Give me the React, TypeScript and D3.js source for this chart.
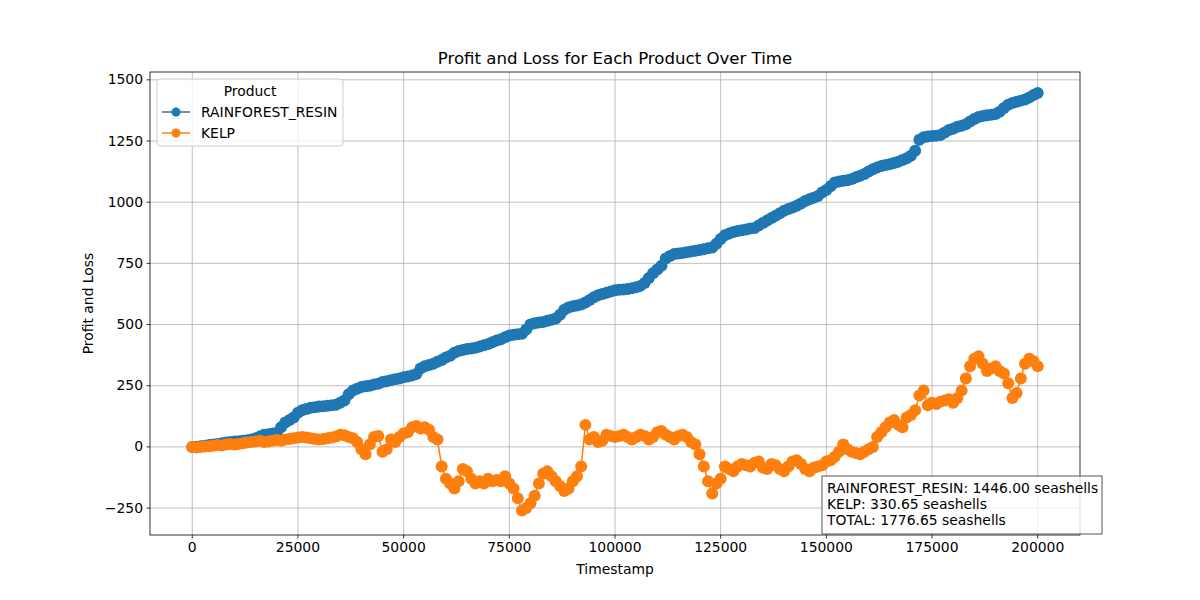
import React from "react";
import * as d3 from "d3";

const step = 1000;
const resinValues = [
0,1,3,5,8,10,12,15,18,20,22,
23,25,27,30,35,42,50,52,55,58,
80,100,110,120,140,150,155,160,162,165,
166,168,170,172,180,190,215,230,238,245,
248,250,255,258,265,268,272,276,280,285,
288,292,298,320,330,335,340,348,355,365,
372,385,392,396,400,402,405,410,415,420,
428,435,440,448,455,458,460,462,480,500,
505,508,510,515,520,525,540,560,570,575,
578,582,590,600,612,620,625,630,635,640,
642,643,645,648,652,658,670,690,710,725,
740,770,780,788,790,792,795,798,802,805,
808,812,815,830,850,865,872,878,882,885,
888,892,895,905,915,925,935,945,955,965,
972,978,985,995,1005,1012,1018,1025,1040,1050,
1065,1080,1085,1088,1090,1095,1102,1108,1115,1125,
1135,1142,1148,1152,1155,1160,1165,1172,1180,1190,
1210,1255,1265,1268,1270,1272,1275,1285,1295,1300,
1308,1312,1318,1330,1340,1348,1352,1355,1357,1360,
1370,1385,1398,1405,1410,1415,1420,1428,1438,1446];
const kelpValues = [
0,-2,0,2,3,5,8,6,10,12,10,
12,15,18,20,22,25,20,22,25,28,
25,30,32,35,38,40,38,35,32,30,
32,35,38,42,50,48,40,35,20,-10,
-30,10,40,45,-20,-10,30,20,40,55,
60,80,85,75,80,70,40,30,-80,-130,
-150,-170,-140,-90,-100,-130,-150,-140,-150,-130,
-140,-135,-140,-120,-150,-170,-210,-260,-250,-230,
-200,-150,-110,-100,-120,-140,-160,-180,-170,-140,
-120,-80,90,30,40,20,25,50,45,40,
45,50,40,30,40,50,45,30,40,60,
65,50,40,30,45,50,40,20,10,-30,
-80,-140,-190,-150,-130,-80,-90,-100,-80,-70,
-75,-80,-65,-60,-85,-90,-70,-75,-90,-100,
-80,-60,-55,-70,-90,-100,-85,-80,-75,-60,
-55,-40,-20,10,-10,-20,-25,-30,-20,-10,
0,40,60,80,100,110,90,80,120,130,
150,210,230,170,180,175,185,190,195,180,
200,230,280,330,360,370,340,310,320,330,
310,300,260,200,220,280,340,360,350,330];
const xTicks = [0,25000,50000,75000,100000,125000,150000,175000,200000];
const yTicks = [-250,0,250,500,750,1000,1250,1500];
const seriesNames = ["RAINFOREST_RESIN","KELP"];
const colors = ["#1f77b4","#ff7f0e"];
const summary = ["RAINFOREST_RESIN: 1446.00 seashells","KELP: 330.65 seashells","TOTAL: 1776.65 seashells"];

export default function App() {
  const W = 1200, H = 600;
  const L = 150, R = 1080, T = 72, B = 535;
  const x = d3.scaleLinear().domain([-10000, 210000]).range([L, R]);
  const y = d3.scaleLinear().domain([-360, 1532]).range([B, T]);
  const resin = resinValues.map((v, i) => [i * step, v] as [number, number]);
  const kelp = kelpValues.map((v, i) => [i * step, v] as [number, number]);
  const series = [resin, kelp];
  const line = d3.line<[number, number]>().x(d => x(d[0])).y(d => y(d[1]));
  const font = "DejaVu Sans, sans-serif";
  const fs = 13.9;
  return (
    <svg width={W} height={H} style={{ position: "absolute", left: 0, top: 0 }} fontFamily={font}>
      <rect width={W} height={H} fill="#fff" />
      {xTicks.map(t => <line key={"gx"+t} x1={x(t)} x2={x(t)} y1={T} y2={B} stroke="#b0b0b0" strokeWidth={0.8} />)}
      {yTicks.map(t => <line key={"gy"+t} x1={L} x2={R} y1={y(t)} y2={y(t)} stroke="#b0b0b0" strokeWidth={0.8} />)}
      {series.map((s, k) => (
        <g key={k}>
          <path d={line(s) || ""} fill="none" stroke={colors[k]} strokeWidth={1.5} />
          {s.map((d, i) => <circle key={i} cx={x(d[0])} cy={y(d[1])} r={6} fill={colors[k]} />)}
        </g>
      ))}
      <rect x={L} y={T} width={R - L} height={B - T} fill="none" stroke="#000" strokeWidth={0.8} />
      {xTicks.map(t => (
        <g key={"tx"+t}>
          <line x1={x(t)} x2={x(t)} y1={B} y2={B + 3.5} stroke="#000" strokeWidth={0.8} />
          <text x={x(t)} y={B + 17} fontSize={fs} textAnchor="middle">{t}</text>
        </g>
      ))}
      {yTicks.map(t => (
        <g key={"ty"+t}>
          <line x1={L - 3.5} x2={L} y1={y(t)} y2={y(t)} stroke="#000" strokeWidth={0.8} />
          <text x={L - 7} y={y(t) + 4.5} fontSize={fs} textAnchor="end">{t === -250 ? "\u2212250" : t}</text>
        </g>
      ))}
      <text x={(L + R) / 2} y={64} fontSize={16.6} textAnchor="middle">Profit and Loss for Each Product Over Time</text>
      <text x={(L + R) / 2} y={574} fontSize={fs} textAnchor="middle">Timestamp</text>
      <text transform={`translate(93,${(T + B) / 2}) rotate(-90)`} fontSize={fs} textAnchor="middle">Profit and Loss</text>
      <g>
        <rect x={157} y={79} width={186} height={67} rx={3} fill="#fff" fillOpacity={0.8} stroke="#ccc" />
        <text x={250} y={96} fontSize={fs} textAnchor="middle">Product</text>
        {seriesNames.map((n, k) => (
          <g key={n}>
            <line x1={162} x2={190} y1={112 + k * 21} y2={112 + k * 21} stroke={colors[k]} strokeWidth={1.5} />
            <circle cx={176} cy={112 + k * 21} r={4.5} fill={colors[k]} />
            <text x={201} y={117 + k * 21} fontSize={fs}>{n}</text>
          </g>
        ))}
      </g>
      <g>
        <rect x={822} y={476} width={280} height={58} fill="#fff" fillOpacity={0.8} stroke="#555" />
        {summary.map((s, i) => <text key={i} x={827} y={493 + i * 16} fontSize={fs}>{s}</text>)}
      </g>
    </svg>
  );
}
